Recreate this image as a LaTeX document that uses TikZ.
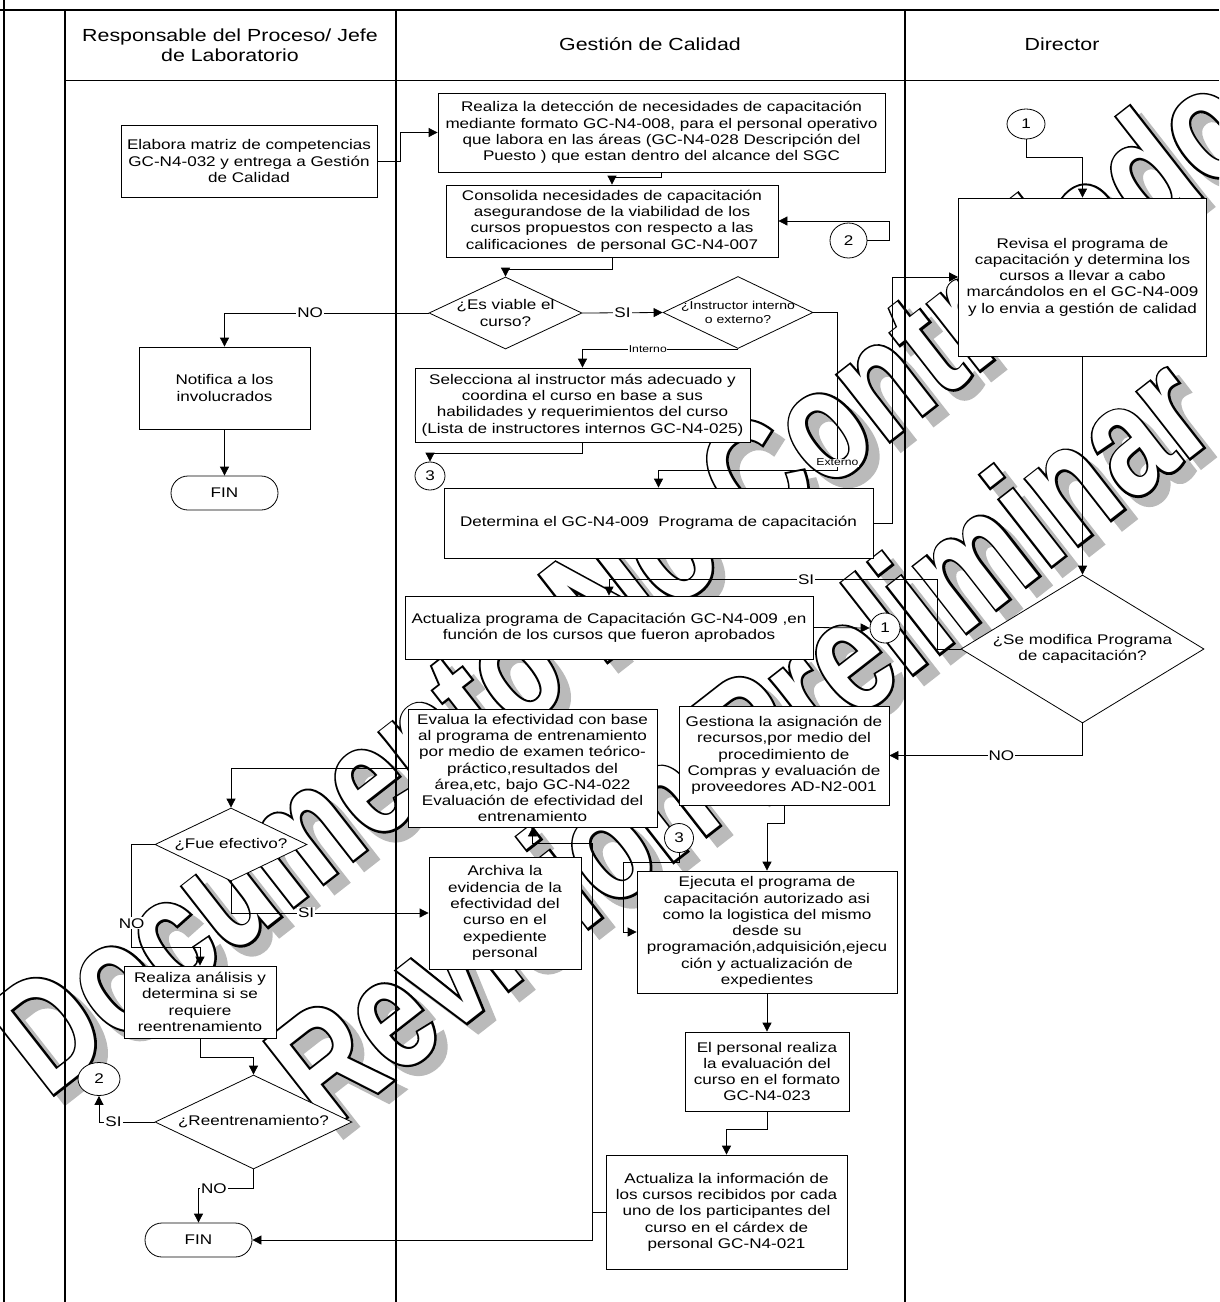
\documentclass[tikz,border=0pt]{standalone}
\usepackage{fontspec}
\setmainfont{Liberation Sans}[FakeStretch=1.22]
\newfontfamily\wmfont{Liberation Sans}[FakeStretch=0.76]
\newfontfamily\wmthick{Liberation Sans}[FakeStretch=0.76, FakeBold=2.6]
\usetikzlibrary{shapes.geometric,arrows.meta,calc}

\newcommand\bxfont{\fontsize{14}{16.3}\selectfont}
\newcommand\smfont{\fontsize{11.5}{13.5}\selectfont}
\newcommand\tinyfont{\fontsize{10}{12}\selectfont}
\newcommand\hdfont{\fontsize{17.5}{20}\selectfont}

% outlined stamp text with a grey drop shadow
\newcommand\wmstamp[2]{%
  \node[wm, font=\wmthick\bfseries\fontsize{160}{160}\selectfont, text=black!27] at ($(#1)+(11,9)$) {#2};
  \node[wm, font=\wmthick\bfseries\fontsize{160}{160}\selectfont, text=black] at (#1) {#2};
  \node[wm, text=white] at (#1) {#2};}

\begin{document}
\begin{tikzpicture}[x=1pt,y=-1pt,
  wm/.style={font=\wmfont\bfseries\fontsize{160}{160}\selectfont, rotate=38, inner sep=0pt},
  proc/.style={draw, fill=white, line width=0.8pt, inner sep=0pt, align=center, font=\bxfont},
  dec/.style={diamond, draw, fill=white, line width=0.8pt, inner sep=0pt},
  dectxt/.style={font=\bxfont, align=center},
  term/.style={draw, fill=white, line width=0.8pt, rounded corners=17pt, minimum width=107pt, minimum height=34pt, inner sep=0pt, font=\bxfont},
  conn/.style={ellipse, draw, fill=white, line width=0.8pt, inner sep=0pt, font=\bxfont},
  hdr/.style={align=center, font=\hdfont, inner sep=0pt},
  arr/.style={line width=0.8pt, -{Triangle[length=9pt,width=9pt]}},
  lbl/.style={fill=white, inner sep=1pt, font=\bxfont},
  slbl/.style={fill=white, inner sep=0.5pt, font=\tinyfont},
  lane/.style={line width=1.2pt}]

\useasboundingbox (0,0) rectangle (1219,1302);
\clip (0,0) rectangle (1219,1302);
\fill[white] (0,0) rectangle (1219,1302);

% stamp across the sheet
\coordinate (wmA) at (622,578);
\coordinate (wmB) at (738,738);
\wmstamp{wmA}{Documento No Controlado}
\wmstamp{wmB}{Revisión Preliminar}

% frame and swimlanes
\draw[line width=1.6pt] (0,10) -- (1219,10);
\draw[line width=1.4pt] (4,0) -- (4,1302);
\draw[lane] (65,10) -- (65,1302);
\draw[lane] (396,10) -- (396,1302);
\draw[lane] (905,10) -- (905,1302);
\draw[line width=0.9pt] (65,80) -- (1219,80);
\node[hdr] (h1) at (230,45) {Responsable del Proceso/ Jefe\\de Laboratorio};
\node[hdr] (h2) at (650,44) {Gestión de Calidad};
\node[hdr] (h3) at (1062,44) {Director};

% steps
\node[proc, minimum width=256pt, minimum height=72pt] (elab) at (249,161) {Elabora matriz de competencias\\GC-N4-032 y entrega a Gestión\\de Calidad};
\node[proc, minimum width=447pt, minimum height=79pt] (detec) at (661.5,132.5) {Realiza la detección de necesidades de capacitación\\mediante formato GC-N4-008, para el personal operativo\\que labora en las áreas (GC-N4-028 Descripción del\\Puesto ) que estan dentro del alcance del SGC};
\node[proc, minimum width=332pt, minimum height=72pt] (consol) at (612,221) {Consolida necesidades de capacitación\\asegurandose de la viabilidad de los\\cursos propuestos con respecto a las\\calificaciones\ \ de personal GC-N4-007};
\node[dec, minimum width=153pt, minimum height=72pt, label={[dectxt]center:{¿Es viable el\\curso?}}] (viable) at (505.5,313) {};
\node[proc, minimum width=171pt, minimum height=82pt] (notif) at (224.5,388) {Notifica a los\\involucrados};
\node[term] (fin1) at (224.5,493) {FIN};
\node[dec, minimum width=150pt, minimum height=72pt, label={[dectxt, font=\smfont]center:{¿Instructor interno\\o externo?}}] (instr) at (738,312.5) {};
\node[proc, minimum width=335pt, minimum height=74pt] (selec) at (582.5,405) {Selecciona al instructor más adecuado y\\coordina el curso en base a sus\\habilidades y requerimientos del curso\\(Lista de instructores internos GC-N4-025)};
\node[conn, minimum width=30pt, minimum height=28pt] (c3a) at (430,476) {3};
\node[proc, minimum width=429pt, minimum height=70pt] (determ) at (658.5,523) {Determina el GC-N4-009\ \ Programa de capacitación};
\node[proc, minimum width=248pt, minimum height=158pt] (revisa) at (1082.5,277) {Revisa el programa de\\capacitación y determina los\\cursos a llevar a cabo\\marcándolos en el GC-N4-009\\y lo envia a gestión de calidad};
\node[conn, minimum width=38pt, minimum height=30pt] (c1a) at (1026,124) {1};
\node[conn, minimum width=37pt, minimum height=35pt] (c2a) at (848.5,240.5) {2};
\node[dec, minimum width=243pt, minimum height=148pt, label={[dectxt]center:{¿Se modifica Programa\\de capacitación?}}] (modif) at (1082.5,649) {};
\node[proc, minimum width=408pt, minimum height=63pt] (actual) at (609,627.5) {Actualiza programa de Capacitación GC-N4-009 ,en\\función de los cursos que fueron aprobados};
\node[conn, minimum width=30pt, minimum height=30pt] (c1b) at (885,628) {1};
\node[proc, minimum width=210pt, minimum height=99pt] (gest) at (784,755.5) {Gestiona la asignación de\\recursos,por medio del\\procedimiento de\\Compras y evaluación de\\proveedores AD-N2-001};
\node[proc, minimum width=249pt, minimum height=118pt] (evalua) at (532.5,768) {Evalua la efectividad con base\\al programa de entrenamiento\\por medio de examen teórico-\\práctico,resultados del\\área,etc, bajo GC-N4-022\\Evaluación de efectividad del\\entrenamiento};
\node[dec, minimum width=152pt, minimum height=73pt, label={[dectxt]center:{¿Fue efectivo?}}] (fue) at (231,844.5) {};
\node[proc, minimum width=152pt, minimum height=112pt] (archiva) at (505,913) {Archiva la\\evidencia de la\\efectividad del\\curso en el\\expediente\\personal};
\node[conn, minimum width=29pt, minimum height=29pt] (c3b) at (679,838) {3};
\node[proc, minimum width=260pt, minimum height=122pt] (ejec) at (767,932) {Ejecuta el programa de\\capacitación autorizado asi\\como la logistica del mismo\\desde su\\programación,adquisición,ejecu\\ción y actualización de\\expedientes};
\node[proc, minimum width=152pt, minimum height=72pt] (anal) at (200,1002) {Realiza análisis y\\determina si se\\requiere\\reentrenamiento};
\node[dec, minimum width=197pt, minimum height=94pt, label={[dectxt]center:{¿Reentrenamiento?}}] (reent) at (253.5,1122) {};
\node[conn, minimum width=42pt, minimum height=33pt] (c2b) at (99,1079) {2};
\node[term] (fin2) at (198.5,1240) {FIN};
\node[proc, minimum width=164pt, minimum height=79pt] (pers) at (767,1071.5) {El personal realiza\\la evaluación del\\curso en el formato\\GC-N4-023};
\node[proc, minimum width=241pt, minimum height=114pt] (actinfo) at (726.5,1212) {Actualiza la información de\\los cursos recibidos por cada\\uno de los participantes del\\curso en el cárdex de\\personal GC-N4-021};

% connectors
\draw[arr] (elab.east) -- ++(23,0) |- (detec.west);
\draw[arr] (detec.south) -- ++(0,5) -| (consol.north);
\draw[arr] (c2a.east) -- ++(22,0) |- (consol.east);
\draw[arr] (consol.south) -- ++(0,12) -| (viable.north);
\draw[arr] (viable.west) -| node[lbl, pos=0.29]{NO} (notif.north);
\draw[arr] (notif.south) -- (fin1.north);
\draw[arr] (viable.east) -- node[lbl]{SI} (instr.west);
\draw[arr] (instr.south) -| node[slbl, pos=0.29]{Interno} (selec.north);
\draw[arr] (instr.east) -- ++(24,0) -- node[slbl, pos=0.95]{Externo} ++(0,158) -| (determ.north);
\draw[arr] (selec.south) -- ++(0,11) -| (c3a.north);
\draw[arr] (determ.east) -- ++(19,0) |- (revisa.west);
\draw[arr] (c1a.south) -- ++(0,18) -| (revisa.north);
\draw[arr] (revisa.south) -- (modif.north);
\draw[arr] (modif.west) -- ++(-23,0) |- node[lbl, pos=0.7]{SI} ($(actual.north)+(0,-16)$) -- (actual.north);
\draw[arr] (modif.south) |- node[lbl, pos=0.71]{NO} (gest.east);
\draw[arr] (actual.east) -- (c1b.west);
\draw[arr] (gest.south) -- ++(0,18) -| (ejec.north);
\draw[arr] (evalua.west) -| (fue.north);
\draw[arr] (fue.south) |- node[lbl, pos=0.69]{SI} (archiva.west);
\draw[arr] (fue.west) -- ++(-23,0) -- node[lbl, pos=0.77]{NO} ++(0,102.5) -| (anal.north);
\draw[arr] (c3b.south) -- ++(0,9.5) -| ($(ejec.west)+(-13,0)$) -- (ejec.west);
\draw[arr] (anal.south) -- ++(0,19) -| (reent.north);
\draw[arr] (reent.west) -| node[lbl, pos=0.37]{SI} (c2b.south);
\draw[arr] (reent.south) -- ++(0,19) -| node[lbl, pos=0.36]{NO} (fin2.north);
\draw[arr] (ejec.south) -- (pers.north);
\draw[arr] (pers.south) -- ++(0,18) -| (actinfo.north);
\draw[arr] (actinfo.west) -- ++(-13,0) -- ++(0,-369) -| (evalua.south);
\draw[arr] (actinfo.west) -- ++(-13,0) |- (fin2.east);
\end{tikzpicture}
\end{document}
